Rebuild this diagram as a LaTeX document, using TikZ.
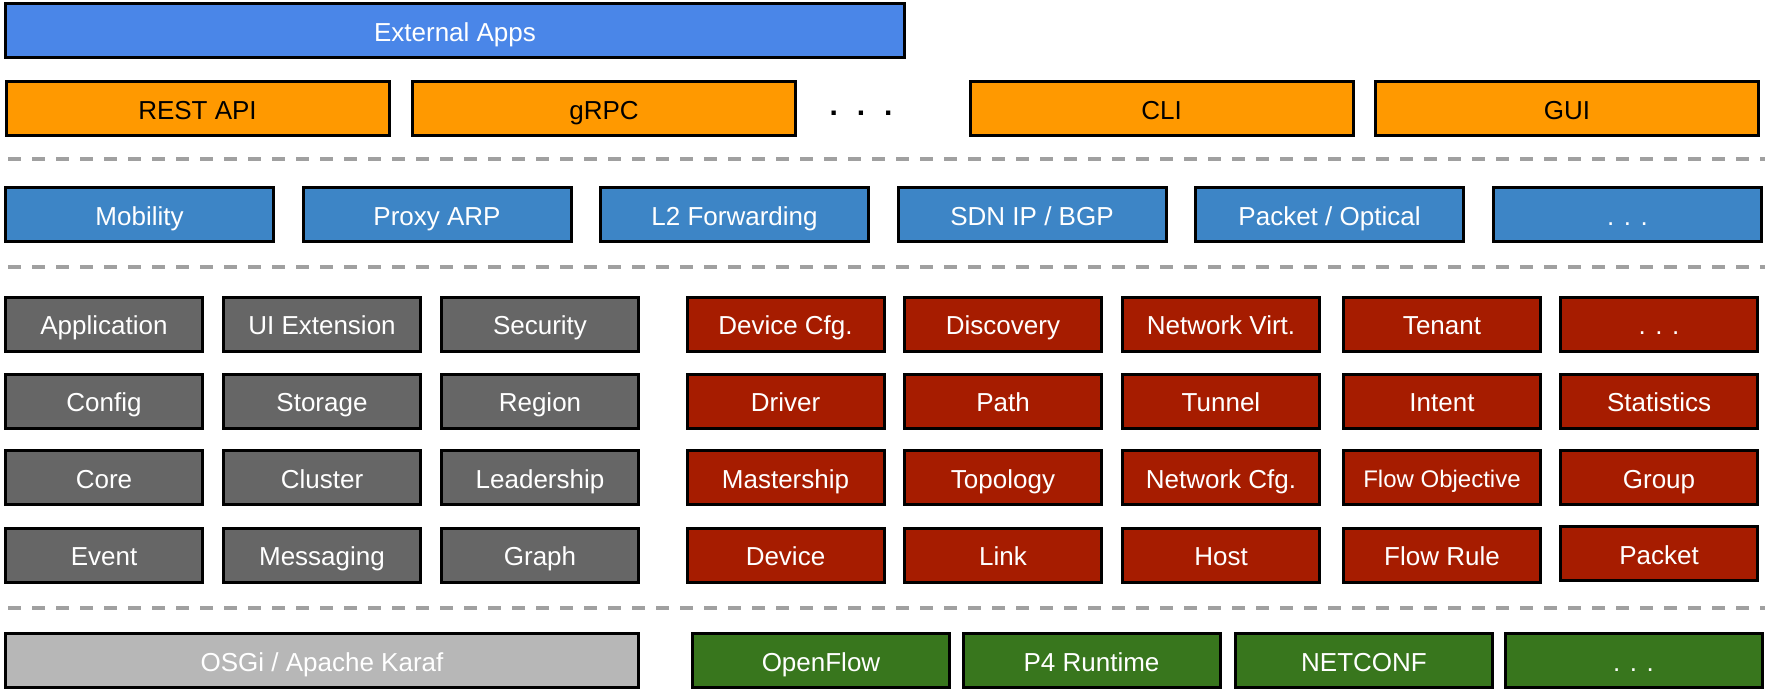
\documentclass[tikz,border=0pt]{standalone}
\usepackage{fontspec}
\setmainfont{Liberation Sans}
\definecolor{extblue}{HTML}{4A86E8}
\definecolor{apiorange}{HTML}{FF9900}
\definecolor{appblue}{HTML}{3D85C6}
\definecolor{coregray}{HTML}{666666}
\definecolor{servred}{HTML}{A61C00}
\definecolor{osgigray}{HTML}{B7B7B7}
\definecolor{southgreen}{HTML}{38761D}
\definecolor{sepgray}{HTML}{A0A0A0}
\tikzset{%
  layerbox/.style   = {shape=rectangle, draw=black, line width=3pt,%
                       inner sep=0pt, minimum height=54pt,%
                       text height=21.6pt, text depth=0pt,%
                       font=\fontsize{26}{31}\selectfont, text=white},%
  extapp/.style     = {layerbox, fill=extblue, minimum width=899pt},%
  northapi/.style   = {layerbox, fill=apiorange, text=black, minimum width=383pt},%
  netapp/.style     = {layerbox, fill=appblue, minimum width=268pt},%
  corebox/.style    = {layerbox, fill=coregray, minimum width=197pt},%
  servicebox/.style = {layerbox, fill=servred, minimum width=197pt},%
  osgi/.style       = {layerbox, fill=osgigray, minimum width=633pt},%
  southbox/.style   = {layerbox, fill=southgreen, minimum width=257pt},%
  separator/.style  = {draw=sepgray, line width=4pt, dash pattern=on 13pt off 11pt}%
}
\begin{document}
\begin{tikzpicture}[x=1pt,y=-1pt]%
	\useasboundingbox (0,0) rectangle (1765,690);%
	\begin{scope}
		\node [extapp] (ext) at (455,31) {External Apps};%
		\node [northapi] (rest) at (197.5,108.5) {REST API};%
		\node [northapi] (grpc) at (604,108.5) {gRPC};%
		\node [anchor=base, text=black, font=\fontsize{30}{36}\selectfont\bfseries]%
			(apidots) at (861,115.5) {.\hskip 19pt.\hskip 19pt.};%
		\node [northapi] (cli) at (1161.5,108.5) {CLI};%
		\node [northapi] (gui) at (1567,108.5) {GUI};%
		\draw [separator] (8,159.5) -- (1765,159.5);%
		\node [netapp] (mobility) at (139.5,214.5) {Mobility};%
		\node [netapp] (proxyarp) at (437,214.5) {Proxy ARP};%
		\node [netapp] (ltwofwd) at (734.5,214.5) {L2 Forwarding};%
		\node [netapp] (sdnip) at (1032,214.5) {SDN IP / BGP};%
		\node [netapp] (pktopt) at (1329.5,214.5) {Packet / Optical};%
		\node [netapp] (appdots) at (1627.5,214.5) {. . .};%
		\draw [separator] (8,267) -- (1765,267);%
		\node [corebox] (application) at (104,324) {Application};%
		\node [corebox] (uiext) at (322,324) {UI Extension};%
		\node [corebox] (security) at (540,324) {Security};%
		\node [servicebox] (devcfg) at (785.5,324) {Device Cfg.};%
		\node [servicebox] (discovery) at (1003,324) {Discovery};%
		\node [servicebox] (netvirt) at (1221,324) {Network Virt.};%
		\node [servicebox] (tenant) at (1442,324) {Tenant};%
		\node [servicebox] (svcdots) at (1659,324) {. . .};%
		\node [corebox] (config) at (104,401) {Config};%
		\node [corebox] (storage) at (322,401) {Storage};%
		\node [corebox] (region) at (540,401) {Region};%
		\node [servicebox] (driver) at (785.5,401) {Driver};%
		\node [servicebox] (path) at (1003,401) {Path};%
		\node [servicebox] (tunnel) at (1221,401) {Tunnel};%
		\node [servicebox] (intent) at (1442,401) {Intent};%
		\node [servicebox] (statistics) at (1659,401) {Statistics};%
		\node [corebox] (core) at (104,477.5) {Core};%
		\node [corebox] (cluster) at (322,477.5) {Cluster};%
		\node [corebox] (leadership) at (540,477.5) {Leadership};%
		\node [servicebox] (mastership) at (785.5,477.5) {Mastership};%
		\node [servicebox] (topology) at (1003,477.5) {Topology};%
		\node [servicebox] (netcfg) at (1221,477.5) {Network Cfg.};%
		\node [servicebox, font=\fontsize{24}{29}\selectfont, text height=20.2pt]%
			(flowobj) at (1442,477.5) {Flow Objective};%
		\node [servicebox] (group) at (1659,477.5) {Group};%
		\node [corebox] (event) at (104,555) {Event};%
		\node [corebox] (messaging) at (322,555) {Messaging};%
		\node [corebox] (graph) at (540,555) {Graph};%
		\node [servicebox] (device) at (785.5,555) {Device};%
		\node [servicebox] (link) at (1003,555) {Link};%
		\node [servicebox] (host) at (1221,555) {Host};%
		\node [servicebox] (flowrule) at (1442,555) {Flow Rule};%
		\node [servicebox] (packet) at (1659,553.5) {Packet};%
		\draw [separator] (8,608) -- (1765,608);%
		\node [osgi] (karaf) at (322,660.5) {OSGi / Apache Karaf};%
		\node [southbox] (openflow) at (821,660.5) {OpenFlow};%
		\node [southbox] (pfour) at (1091.5,660.5) {P4 Runtime};%
		\node [southbox] (netconf) at (1364,660.5) {NETCONF};%
		\node [southbox] (southdots) at (1633.5,660.5) {. . .};%
	\end{scope}
\end{tikzpicture}
\end{document}
